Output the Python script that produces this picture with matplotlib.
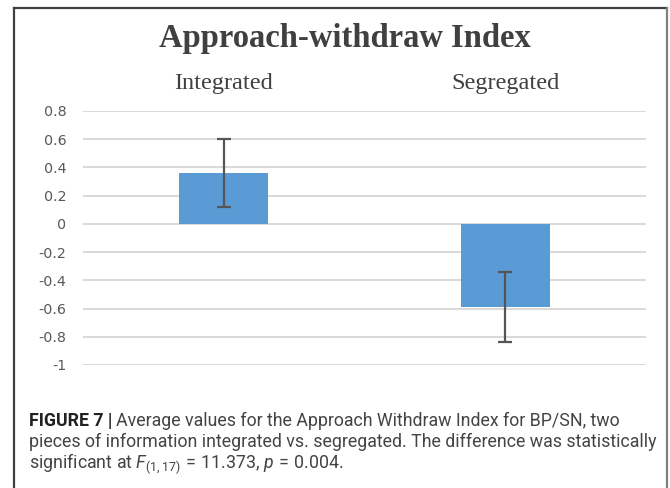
import matplotlib
matplotlib.use("Agg")
import matplotlib.pyplot as plt
from matplotlib.lines import Line2D

categories = ["Integrated", "Segregated"]
means = [0.36, -0.59]
errors = [0.24, 0.25]
yticks = [0.8, 0.6, 0.4, 0.2, 0, -0.2, -0.4, -0.6, -0.8, -1]
title = "Approach-withdraw Index"

cap_font = "Roboto"
plt.rcParams["mathtext.fontset"] = "custom"
plt.rcParams["mathtext.rm"] = cap_font
plt.rcParams["mathtext.it"] = cap_font + ":italic"

W, H = 670, 488
fig = plt.figure(figsize=(W / 100, H / 100), dpi=100)

x0, x1 = 83, 646
ytop, ybot = 111, 365
ax = fig.add_axes([x0 / W, 1 - ybot / H, (x1 - x0) / W, (ybot - ytop) / H])

xs = list(range(len(categories)))
ax.bar(xs, means, width=0.317, color="#5B9BD5", zorder=3)
ax.errorbar(xs, means, yerr=errors, fmt="none", ecolor="#555555",
            elinewidth=1.6, capsize=5.0, capthick=1.6, zorder=4)

ax.set_xlim(-0.5, 1.5)
ax.set_ylim(min(yticks), max(yticks))
ax.set_yticks(yticks)
ax.set_yticklabels([f"{v:g}" for v in yticks], color="#595959", fontsize=10.3,
                   family="DejaVu Sans")
ax.tick_params(axis="y", length=0, pad=12)
ax.grid(axis="y", color="#d9d9d9", lw=1.4, zorder=0)
ax.set_axisbelow(True)
for s in ax.spines.values():
    s.set_visible(False)

ax.xaxis.tick_top()
ax.set_xticks(xs)
ax.set_xticklabels(categories, family="Liberation Serif", fontsize=17.5,
                   color="#404040")
ax.tick_params(axis="x", length=0, pad=12)

fig.text(345 / W, 1 - 47 / H, title, family="Liberation Serif", weight="bold",
         fontsize=23.5, color="#404040", ha="center", va="baseline")

# frame
fig.add_artist(Line2D([14 / W, 14 / W], [0, 1 - 8 / H], transform=fig.transFigure,
                      color="#404040", lw=1.6))
fig.add_artist(Line2D([14 / W, 667 / W], [1 - 8 / H, 1 - 8 / H], transform=fig.transFigure,
                      color="#404040", lw=1.6))
fig.add_artist(Line2D([667 / W, 667 / W], [0, 1 - 8 / H], transform=fig.transFigure,
                      color="#808080", lw=1.6))

# caption
cx = 29 / W
fs = 12.75
ccol = "#444444"
t_bold = fig.text(cx, 1 - 426 / H, "FIGURE 7 |", family=cap_font, weight="bold",
                  fontsize=fs, color="#222222", va="baseline")
fig.canvas.draw()
r = fig.canvas.get_renderer()
bb = t_bold.get_window_extent(r)
fig.text((bb.x1 + 4) / W, 1 - 426 / H,
         "Average values for the Approach Withdraw Index for BP/SN, two",
         family=cap_font, fontsize=fs, color=ccol, va="baseline")
fig.text(cx, 1 - 447 / H,
         "pieces of information integrated vs. segregated. The difference was statistically",
         family=cap_font, fontsize=fs, color=ccol, va="baseline")
fig.text(cx, 1 - 468 / H,
         r"significant at $F_{(1,17)}\,=\,$11.373, $p\,=\,$0.004.",
         family=cap_font, fontsize=fs, color=ccol, va="baseline")

fig.savefig("out.png", dpi=100)
